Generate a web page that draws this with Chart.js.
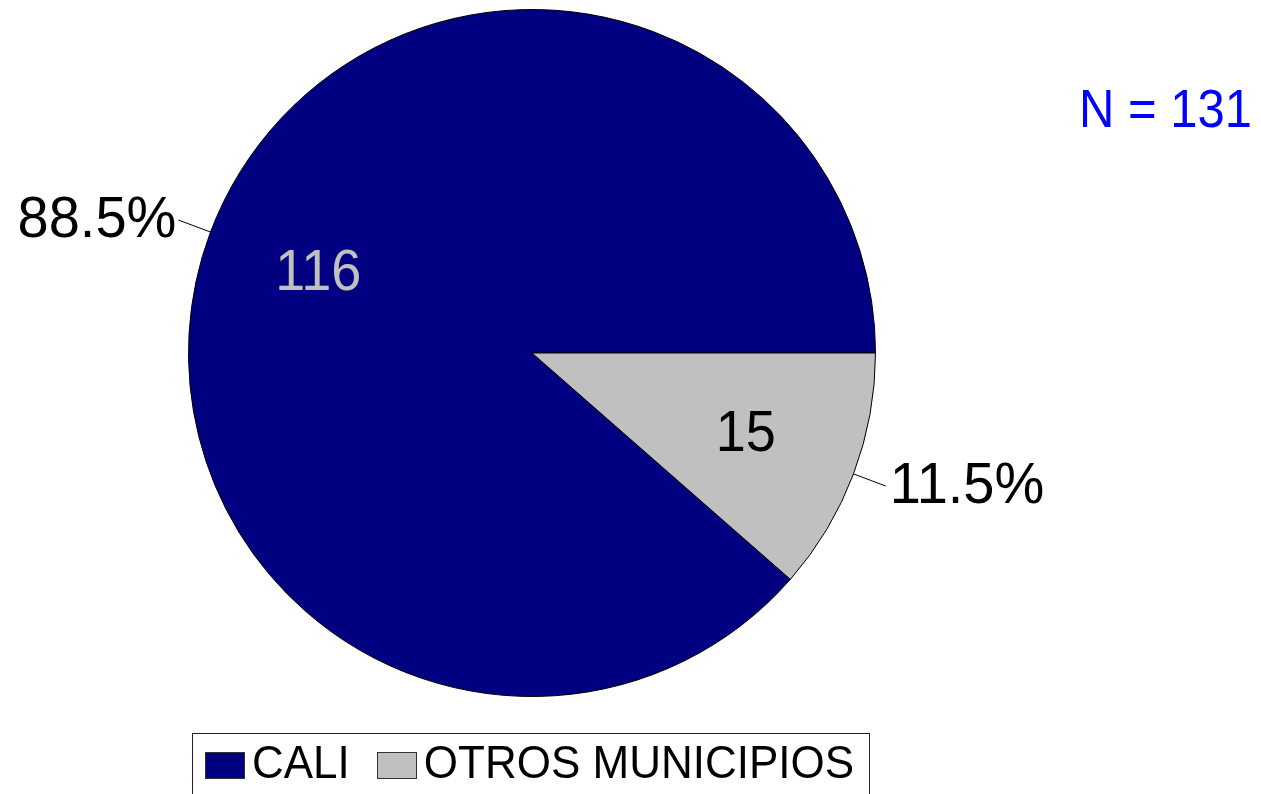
<!DOCTYPE html>
<html>
<head>
<meta charset="utf-8">
<script src="https://cdn.jsdelivr.net/npm/chart.js@4.4.1/dist/chart.umd.min.js"></script>
<style>
  html, body { margin: 0; padding: 0; background: #ffffff; }
  #wrap { width: 1261px; height: 794px; position: relative; }
</style>
</head>
<body>
<div id="wrap"><canvas id="municipioChart"></canvas></div>
<script>
// datos del gráfico
const categorias = ['CALI', 'OTROS MUNICIPIOS'];
const pacientes = [116, 15];
const colores = ['#000080', '#C0C0C0'];
const coloresValor = ['#C0C0C0', '#000000'];

const total = pacientes.reduce((a, b) => a + b, 0);
const fuente = "'Liberation Sans', Arial, Helvetica, sans-serif";

// texto un poco estirado en vertical, como en el original
function texto(ctx, txt, x, y, sy) {
    ctx.save();
    ctx.translate(x, y);
    ctx.scale(1, sy);
    ctx.fillText(txt, 0, 0);
    ctx.restore();
}

// etiquetas: valor dentro, porcentaje fuera con línea guía
const etiquetasPlugin = {
    id: 'etiquetas',
    afterDatasetsDraw(chart) {
        const ctx = chart.ctx;
        const meta = chart.getDatasetMeta(0);
        meta.data.forEach((arc, i) => {
            const p = arc.getProps(['x', 'y', 'startAngle', 'endAngle', 'outerRadius'], true);
            const mid = (p.startAngle + p.endAngle) / 2;
            const cos = Math.cos(mid), sin = Math.sin(mid);

            // valor dentro del sector
            ctx.save();
            ctx.font = '54px ' + fuente;
            ctx.fillStyle = coloresValor[i];
            ctx.textAlign = 'center';
            ctx.textBaseline = 'middle';
            texto(ctx, String(pacientes[i]), p.x + cos * p.outerRadius * 0.665, p.y + sin * p.outerRadius * 0.665 + 2, 1.05);

            // línea guía
            const x1 = p.x + cos * p.outerRadius, y1 = p.y + sin * p.outerRadius;
            const x2 = p.x + cos * p.outerRadius * 1.1, y2 = p.y + sin * p.outerRadius * 1.1;
            ctx.strokeStyle = '#000000';
            ctx.lineWidth = 1;
            ctx.beginPath();
            ctx.moveTo(x1, y1);
            ctx.lineTo(x2, y2);
            ctx.stroke();

            // porcentaje
            const pct = (pacientes[i] / total * 100).toFixed(1) + '%';
            ctx.font = '56px ' + fuente;
            ctx.fillStyle = '#000000';
            ctx.textAlign = cos < 0 ? 'right' : 'left';
            texto(ctx, pct, x2 + (cos < 0 ? -2 : 4), y2 + 1, 1.04);
            ctx.restore();
        });
    },
    afterDraw(chart) {
        const ctx = chart.ctx;
        const area = chart.chartArea;

        // N total
        ctx.save();
        ctx.font = '49px ' + fuente;
        ctx.fillStyle = '#0000FF';
        ctx.textAlign = 'right';
        ctx.textBaseline = 'middle';
        texto(ctx, 'N = ' + total, 1252, 112, 1.1);

        // leyenda con marco
        ctx.font = '44px ' + fuente;
        const caja = 39, hueco = 8, sep = 27;
        const anchos = categorias.map(c => ctx.measureText(c).width);
        let totalW = 0;
        anchos.forEach((w, i) => { totalW += caja + hueco + w + (i < anchos.length - 1 ? sep : 0); });
        const cx = (area.left + area.right) / 2;
        let x = Math.round(cx - totalW / 2) - 2;
        const yMid = 765;

        ctx.strokeStyle = '#222222';
        ctx.lineWidth = 1;
        ctx.strokeRect(x - 13 + 0.5, 733.5, Math.round(totalW + 28), 80);

        categorias.forEach((c, i) => {
            const bx = Math.round(x);
            ctx.fillStyle = colores[i];
            ctx.fillRect(bx, yMid - 13, caja, 26);
            ctx.strokeStyle = '#333333';
            ctx.strokeRect(bx + 0.5, yMid - 12.5, caja, 26);
            ctx.fillStyle = '#000000';
            ctx.textAlign = 'left';
            ctx.textBaseline = 'middle';
            texto(ctx, c, x + caja + hueco, yMid, 1.04);
            x += caja + hueco + anchos[i] + sep;
        });
        ctx.restore();
    }
};

new Chart(document.getElementById('municipioChart'), {
    type: 'pie',
    data: {
        labels: categorias,
        datasets: [{
            data: pacientes,
            backgroundColor: colores,
            borderColor: '#000000',
            borderWidth: 1
        }]
    },
    options: {
        responsive: true,
        maintainAspectRatio: false,
        animation: false,
        // CALI empieza después del sector de OTROS (que arranca a las 3 en punto)
        rotation: 90 + 360 * pacientes[1] / total,
        layout: { padding: { top: 9, bottom: 97, left: 188, right: 385 } },
        plugins: {
            legend: { display: false },
            tooltip: { enabled: false }
        }
    },
    plugins: [etiquetasPlugin]
});
</script>
</body>
</html>
